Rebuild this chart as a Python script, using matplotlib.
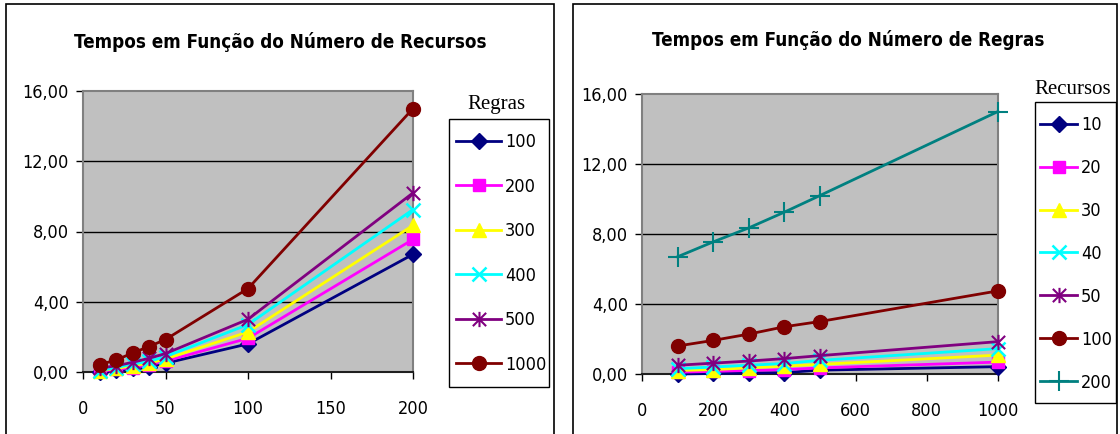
import matplotlib
matplotlib.use("Agg")
import matplotlib.pyplot as plt
from matplotlib.path import Path
from matplotlib.patches import Rectangle
import numpy as np

# ---- data ----
recursos = [10, 20, 30, 40, 50, 100, 200]
regras = [100, 200, 300, 400, 500, 1000]

# time for each Recursos value (rows) across Regras (columns)
t_rec10 = [0.00, 0.03, 0.06, 0.08, 0.22, 0.42]
t_rec20 = [0.10, 0.15, 0.20, 0.25, 0.35, 0.68]
t_rec30 = [0.20, 0.25, 0.35, 0.45, 0.55, 1.08]
t_rec40 = [0.30, 0.40, 0.50, 0.60, 0.78, 1.45]
t_rec50 = [0.50, 0.62, 0.74, 0.88, 1.05, 1.85]
t_rec100 = [1.60, 1.92, 2.28, 2.70, 3.00, 4.75]
t_rec200 = [6.70, 7.55, 8.35, 9.25, 10.20, 15.00]

table = np.array([t_rec10, t_rec20, t_rec30, t_rec40, t_rec50, t_rec100, t_rec200])

yticks = [0, 4, 8, 12, 16]
ytick_labels = ["0,00", "4,00", "8,00", "12,00", "16,00"]
left_xticks = [0, 50, 100, 150, 200]
right_xticks = [0, 200, 400, 600, 800, 1000]

title_left = "Tempos em Função do Número de Recursos"
title_right = "Tempos em Função do Número de Regras"
legend_title_left = "Regras"
legend_title_right = "Recursos"

# ---- styles ----
star = Path([(-1, -1), (1, 1), (-1, 1), (1, -1), (0, -1.15), (0, 1.15)],
            [Path.MOVETO, Path.LINETO, Path.MOVETO, Path.LINETO, Path.MOVETO, Path.LINETO])
styles = [
    dict(color="#000080", marker="D", ms=8),
    dict(color="#FF00FF", marker="s", ms=8),
    dict(color="#FFFF00", marker="^", ms=10),
    dict(color="#00FFFF", marker="x", ms=10, mew=1.8),
    dict(color="#800080", marker=star, ms=11, mew=1.5),
    dict(color="#800000", marker="o", ms=10),
    dict(color="#008080", marker="+", ms=14, mew=1.5),
]

SANS = ["DejaVu Sans"]
STRETCH = "condensed"
SERIF = ["Liberation Serif", "DejaVu Serif"]
FS = 13

W, H = 1120, 434
fig = plt.figure(figsize=(W / 100, H / 100), dpi=100)
fig.patch.set_facecolor("white")


def fx(px):
    return px / W


def fy(py):
    return 1 - py / H


def frame(x0, y0, x1, y1, lw=1.0):
    fig.add_artist(Rectangle((fx(x0), fy(y1)), fx(x1 - x0), fy(y0) - fy(y1),
                             transform=fig.transFigure, fill=False,
                             edgecolor="black", lw=lw))


# chart-area borders
frame(6, 4, 554, 440, lw=1.2)
frame(573, 4, 1117, 440, lw=1.2)


def setup_axes(ax, xticks, xmax):
    ax.set_facecolor("#C0C0C0")
    ax.set_xlim(0, xmax)
    ax.set_ylim(0, 16)
    ax.set_yticks(yticks)
    ax.set_yticklabels(ytick_labels, family=SANS, stretch=STRETCH, fontsize=FS)
    ax.set_xticks(xticks)
    ax.set_xticklabels([str(v) for v in xticks], family=SANS, stretch=STRETCH,
                       fontsize=FS)
    for yv in yticks[1:4]:
        ax.axhline(yv, color="black", lw=1, zorder=1)
    for s in ["top", "right", "left"]:
        ax.spines[s].set_color("#808080")
        ax.spines[s].set_linewidth(1.5)
    ax.spines["bottom"].set_color("#202020")
    ax.spines["bottom"].set_linewidth(1.5)
    ax.tick_params(axis="both", direction="out", length=5, width=1)
    ax.tick_params(axis="y", pad=5)
    ax.tick_params(axis="x", pad=15)


def add_legend(ax, x_left, y_top, spacing, hl):
    leg = ax.legend(loc="upper left", bbox_to_anchor=(fx(x_left), fy(y_top)),
                    bbox_transform=fig.transFigure, frameon=False,
                    prop=dict(family=SANS, stretch=STRETCH, size=FS),
                    handlelength=hl, labelspacing=spacing, borderpad=0,
                    handletextpad=0.22, borderaxespad=0)
    return leg


# ---- left chart: x = recursos, series = regras ----
axL = fig.add_axes([fx(83), fy(372), fx(413 - 83), fy(91) - fy(372)])
setup_axes(axL, left_xticks, 200)
for j, rg in enumerate(regras):
    st = styles[j] if j < 5 else styles[5]
    axL.plot(recursos, table[:, j], lw=2, label=str(rg), clip_on=False,
             zorder=3, **st)
add_legend(axL, 456, 133, 1.47, 2.5)
frame(449, 119, 549, 387)
fig.text(fx(496), fy(105), legend_title_left, family=SERIF, fontsize=15,
         ha="center", va="center")
fig.text(fx(280), fy(42), title_left, family=SANS, stretch=STRETCH,
         fontsize=13.5, fontweight="bold", ha="center", va="center")

# ---- right chart: x = regras, series = recursos ----
axR = fig.add_axes([fx(642), fy(374), fx(998 - 642), fy(94) - fy(374)])
setup_axes(axR, right_xticks, 1000)
for i, rc in enumerate(recursos):
    axR.plot(regras, table[i, :], lw=2, label=str(rc), clip_on=False,
             zorder=3, **styles[i])
add_legend(axR, 1040, 116, 1.38, 2.05)
frame(1035, 102, 1116, 403)
fig.text(fx(1073), fy(89), legend_title_right, family=SERIF, fontsize=15,
         ha="center", va="center")
fig.text(fx(848), fy(40), title_right, family=SANS, stretch=STRETCH,
         fontsize=13.5, fontweight="bold", ha="center", va="center")

fig.savefig("out.png", dpi=100)
